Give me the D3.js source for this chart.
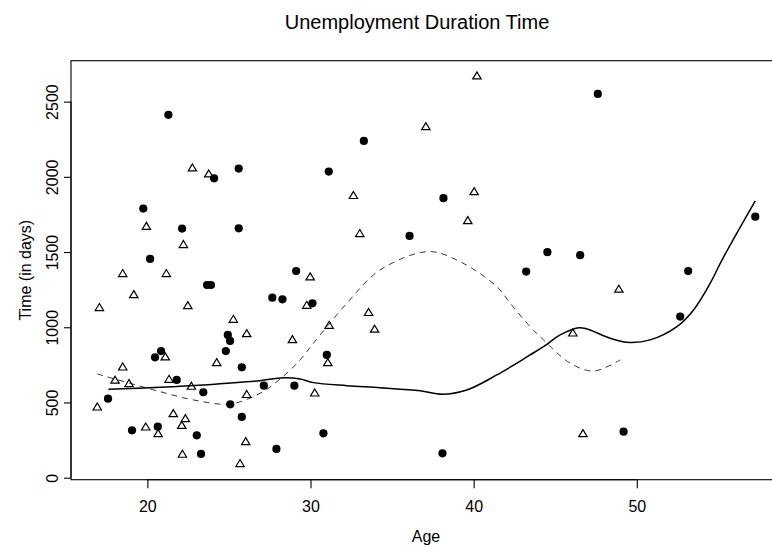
<!DOCTYPE html>
<html>
<head>
<meta charset="utf-8">
<script src="https://cdn.jsdelivr.net/npm/d3@7/dist/d3.min.js"></script>
<style>
  html, body { margin: 0; padding: 0; background: #fff; }
  svg { display: block; font-family: "Liberation Sans", Arial, sans-serif; }
</style>
</head>
<body>
<svg id="chart" width="772" height="545"></svg>
<script>
// ---- Data ----
// Group shown with filled circles: [age, time in days]
const circleAges  = [21.29,24.09,25.60,19.75,22.13,25.60,20.17,29.12,23.66,23.90,27.66,28.28,24.93,25.07,24.81,20.84,20.47,25.79,21.80,23.43,27.14,29.01,17.59,25.08,25.79,19.06,20.64,23.03,23.29,27.91,33.27,31.12,38.15,36.07,43.22,30.12,31.00,30.79,38.09,47.61,57.26,44.52,46.53,53.15,52.66,49.19];
const circleTimes = [2412,1990,2055,1789,1656,1658,1454,1374,1281,1281,1197,1186,949,909,842,842,800,734,650,568,612,612,525,488,404,315,339,282,158,191,2239,2035,1858,1607,1370,1159,816,295,162,2551,1735,1499,1479,1374,1071,306];

// Group shown with open triangles: [age, time in days]
const triAges  = [22.76,23.76,19.94,22.21,18.49,21.16,19.17,17.06,22.48,25.27,26.09,28.89,21.10,24.25,18.49,18.02,18.88,21.33,22.70,26.09,16.93,21.59,22.33,22.11,19.90,20.66,26.03,22.15,25.68,40.20,37.07,32.63,40.03,39.64,33.02,29.98,29.77,33.56,33.93,31.14,31.06,30.26,48.90,46.08,46.70];
const triTimes = [2061,2021,1673,1552,1359,1359,1219,1133,1146,1055,960,920,805,767,738,650,628,656,610,555,472,428,395,350,339,295,242,158,96,2673,2336,1878,1904,1711,1625,1337,1148,1100,989,1015,767,565,1255,964,295];

// Smoothed curves (solid = circles group, dashed = triangles group)
const solidAges  = [17.61,20.78,23.43,26.91,28.14,29.36,30.18,32.23,34.27,36.72,38.09,39.58,41.42,43.46,44.28,45.30,46.43,46.94,48.37,49.39,50.82,52.46,53.48,54.50,55.22,57.26];
const solidTimes = [588,601,616,645,663,656,632,612,598,578,555,583,683,816,871,949,997,989,927,900,916,1004,1115,1293,1447,1840];
const dashAges  = [16.93,20.78,22.82,25.07,26.91,28.14,29.36,30.18,32.23,34.27,37.23,39.17,41.42,42.24,43.46,44.28,45.92,47.35,48.98];
const dashTimes = [690,572,517,490,561,656,783,894,1160,1381,1503,1436,1270,1160,1004,916,761,709,783];

// Axis ticks and labels
const xTicks = [20, 30, 40, 50];
const yTicks = [0, 500, 1000, 1500, 2000, 2500];
const titleText = "Unemployment Duration Time";
const xLabel = "Age";
const yLabel = "Time (in days)";

// ---- Layout ----
const plotLeft = 71, plotRight = 782, plotTop = 60.7, plotBottom = 479.7;
const xDomain = [15.32, 58.90];
const yDomain = [-13.3, 2772];

const svg = d3.select("#chart");
const x = d3.scaleLinear().domain(xDomain).range([plotLeft, plotRight]);
const y = d3.scaleLinear().domain(yDomain).range([plotBottom, plotTop]);

// Plot box (right side falls outside the picture, as in the reference)
svg.append("rect")
  .attr("x", plotLeft).attr("y", plotTop)
  .attr("width", plotRight - plotLeft).attr("height", plotBottom - plotTop)
  .attr("fill", "none").attr("stroke", "#000").attr("stroke-width", 1.1);

// X axis
const xAxis = d3.axisBottom(x).tickValues(xTicks).tickSize(8.5).tickPadding(5).tickFormat(d3.format("d"));
const gx = svg.append("g").attr("transform", `translate(0,${plotBottom})`).call(xAxis);
gx.select(".domain").attr("d", `M${x(xTicks[0])},0H${x(xTicks[xTicks.length-1])}`).attr("stroke", "#000").attr("stroke-width", 1.1);
gx.selectAll(".tick line").attr("stroke", "#000").attr("stroke-width", 1.1);
gx.selectAll(".tick text").attr("font-size", 16).attr("font-family", "Liberation Sans, Arial, sans-serif")
  .attr("fill", "#000").attr("y", 0).attr("dy", null).attr("transform", "translate(0,32.6)");

// Y axis
const yAxis = d3.axisLeft(y).tickValues(yTicks).tickSize(7).tickFormat(d3.format("d"));
const gy = svg.append("g").attr("transform", `translate(${plotLeft},0)`).call(yAxis);
gy.select(".domain").attr("d", `M0,${y(yTicks[0])}V${y(yTicks[yTicks.length-1])}`).attr("stroke", "#000").attr("stroke-width", 1.1);
gy.selectAll(".tick line").attr("stroke", "#000").attr("stroke-width", 1.1);
gy.selectAll(".tick text")
  .attr("font-size", 16).attr("font-family", "Liberation Sans, Arial, sans-serif").attr("fill", "#000")
  .attr("x", null).attr("dy", null).attr("y", null)
  .attr("text-anchor", "middle")
  .attr("transform", "translate(-12.7,0) rotate(-90)");

// Titles
svg.append("text").attr("x", 417).attr("y", 29.3).attr("text-anchor", "middle")
  .attr("font-size", 20).attr("fill", "#000").text(titleText);
svg.append("text").attr("x", 426).attr("y", 541.7).attr("text-anchor", "middle")
  .attr("font-size", 16).attr("fill", "#000").text(xLabel);
svg.append("text").attr("transform", `translate(31,${(plotTop + plotBottom) / 2}) rotate(-90)`)
  .attr("text-anchor", "middle").attr("font-size", 16).attr("fill", "#000").text(yLabel);

// Curves
const line = d3.line().x(d => x(d[0])).y(d => y(d[1])).curve(d3.curveCatmullRom.alpha(0.5));
svg.append("path").datum(d3.zip(dashAges, dashTimes)).attr("d", line)
  .attr("fill", "none").attr("stroke", "#222").attr("stroke-width", 0.9).attr("stroke-dasharray", "6,5");
svg.append("path").datum(d3.zip(solidAges, solidTimes)).attr("d", line)
  .attr("fill", "none").attr("stroke", "#000").attr("stroke-width", 1.5);

// Points: filled circles
svg.append("g").selectAll("circle").data(d3.zip(circleAges, circleTimes)).join("circle")
  .attr("cx", d => x(d[0])).attr("cy", d => y(d[1])).attr("r", 4.1).attr("fill", "#000");

// Points: open triangles
const tri = "M0,-3.7L4.2,3.3L-4.2,3.3Z";
svg.append("g").selectAll("path").data(d3.zip(triAges, triTimes)).join("path")
  .attr("transform", d => `translate(${x(d[0])},${y(d[1])})`)
  .attr("d", tri).attr("fill", "none").attr("stroke", "#000").attr("stroke-width", 1.2);
</script>
</body>
</html>
